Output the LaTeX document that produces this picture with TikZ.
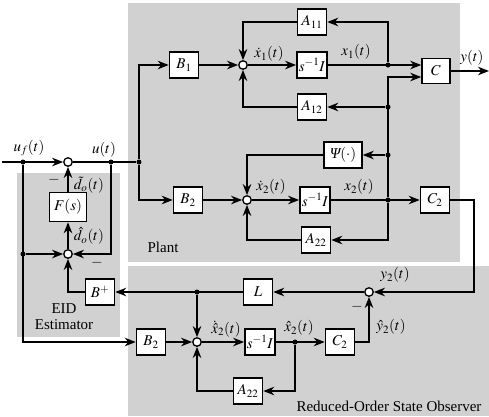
\documentclass[tikz,border=0pt]{standalone}
\usepackage{mathptmx}
\usepackage{fontspec}
\setmainfont{Liberation Serif}
\definecolor{regiongray}{rgb}{0.82,0.82,0.82}
\usepackage{tikz}
\usetikzlibrary{positioning}
\usetikzlibrary{arrows.meta}

\tikzset{
  blk/.style={draw, fill=white, line width=1.5pt, minimum width=29pt, minimum height=26pt, inner sep=2pt},
  sumnode/.style={draw, fill=white, circle, line width=1.3pt, minimum size=8.5pt, inner sep=0pt},
  jdot/.style={circle, fill, inner sep=0pt, minimum size=5pt},
  sig/.style={line width=1.6pt},
  lbl/.style={inner sep=1pt},
}

\begin{document}
\begin{tikzpicture}[x=1pt, y=-1pt, font=\fontsize{15}{16}\selectfont,
    >={Stealth[length=11pt, width=8.5pt, inset=3.5pt]}]
  \useasboundingbox (0,0) rectangle (489,416);
  \fill[regiongray] (128,3) rectangle (460,262);
  \fill[regiongray] (128,266) rectangle (489,416);
  \fill[regiongray] (17,173) rectangle (120,337);

  % EID estimator
  \coordinate (in) at (2,162);
  \node[sumnode] (s0) at (68,162) {};
  \node[sumnode] (s1) at (68,254) {};
  \node[blk, minimum width=37pt, minimum height=29pt] (F) at (68,207) {$F(s)$};
  \node[blk] (Bplus) at (100,292) {$B^{+}$};
  \node[jdot] (jf) at (23,162) {};
  \node[jdot] (je) at (23,254) {};
  \node[jdot] (ju) at (111,162) {};
  \node[jdot] (jp) at (139,162) {};

  % plant
  \node[blk] (B1) at (184,65) {$B_1$};
  \node[sumnode] (sum1) at (243,65) {};
  \node[blk] (I1) at (312,65) {$s^{-1}I$};
  \node[blk] (A11) at (312,22) {$A_{11}$};
  \node[blk] (A12) at (312,107) {$A_{12}$};
  \node[blk, minimum width=28pt, minimum height=25pt] (C) at (436,71) {$C$};
  \coordinate (cin1) at ([yshift=6pt]C.west);
  \coordinate (cin2) at ([yshift=-6pt]C.west);
  \coordinate (yout) at (489,71);
  \node[jdot] (jx1) at (388,65) {};
  \node[jdot] (jA12) at (388,107) {};
  \node[jdot] (jpsi) at (388,155) {};
  \node[jdot] (jx2) at (388,200) {};
  \node[blk] (B2p) at (188,200) {$B_2$};
  \node[sumnode] (sum2) at (247,200) {};
  \node[blk] (I2) at (315,200) {$s^{-1}I$};
  \node[blk, minimum width=38pt] (Psi) at (343,155) {{\itshape Ψ}$(\cdot)$};
  \node[blk] (A22p) at (316,240) {$A_{22}$};
  \node[blk] (C2p) at (435,200) {$C_2$};
  \coordinate (jc) at (474,292);

  % observer
  \node[sumnode] (sum3) at (369,292) {};
  \node[blk] (L) at (258,292) {$L$};
  \node[jdot] (jL) at (197,292) {};
  \node[blk] (B2o) at (151,342) {$B_2$};
  \node[sumnode] (sum4) at (197,342) {};
  \node[blk] (I3) at (260,342) {$s^{-1}I$};
  \node[jdot] (jxh) at (295,342) {};
  \node[blk] (C2o) at (340,342) {$C_2$};
  \node[blk] (A22o) at (248,391) {$A_{22}$};

  % connectors
  \draw[sig,->] (in) -- (s0);
  \draw[sig] (s0) -- (jp);
  \draw[sig,->] (jp) |- (B1);
  \draw[sig,->] (jp) |- (B2p);
  \draw[sig,->] (jf) |- (B2o);
  \draw[sig,->] (je) -- (s1);
  \draw[sig,->] (ju) |- (s1);
  \draw[sig,->] (s1) -- (F);
  \draw[sig,->] (F) -- (s0);
  \draw[sig,->] (Bplus) -| (s1);

  \draw[sig,->] (B1) -- (sum1);
  \draw[sig,->] (sum1) -- (I1);
  \draw[sig,->] (I1) -- (cin1);
  \draw[sig,->] (jx1) |- (A11);
  \draw[sig,->] (A11) -| (sum1);
  \draw[sig,->] (A12) -| (sum1);
  \draw[sig,->] (jA12) -- (A12);
  \draw[sig,->] (jpsi) -- (Psi);
  \draw[sig,->] (jx2) |- (cin2);
  \draw[sig,->] (jx2) |- (A22p);
  \draw[sig,->] (C) -- (yout);
  \draw[sig,->] (B2p) -- (sum2);
  \draw[sig,->] (sum2) -- (I2);
  \draw[sig,->] (I2) -- (C2p);
  \draw[sig,->] (Psi) -| (sum2);
  \draw[sig,->] (A22p) -| (sum2);
  \draw[sig,->] (C2p) -| (jc) -- (sum3);

  \draw[sig,->] (sum3) -- (L);
  \draw[sig,->] (L) -- (Bplus);
  \draw[sig,->] (jL) -- (sum4);
  \draw[sig,->] (B2o) -- (sum4);
  \draw[sig,->] (sum4) -- (I3);
  \draw[sig,->] (I3) -- (C2o);
  \draw[sig,->] (C2o) -| (sum3);
  \draw[sig,->] (jxh) |- (A22o);
  \draw[sig,->] (A22o) -| (sum4);

  % labels
  \node[lbl] (luf) at (29,148) {$u_f(t)$};
  \node[lbl] (lu) at (104,150) {$u(t)$};
  \node[lbl] (ldt) at (89,185) {$\tilde{d}_o(t)$};
  \node[lbl] (ldh) at (89,236) {$\hat{d}_o(t)$};
  \node[lbl] (m1) at (54,180) {$-$};
  \node[lbl] (m2) at (97,263) {$-$};
  \node[lbl] (lxd1) at (269,54) {$\dot{x}_1(t)$};
  \node[lbl] (lx1) at (356,52) {$x_1(t)$};
  \node[lbl] (ly) at (472,58) {$y(t)$};
  \node[lbl] (lxd2) at (271,187) {$\dot{x}_2(t)$};
  \node[lbl] (lx2) at (359,187) {$x_2(t)$};
  \node[lbl] (lplant) at (163,247) {Plant};
  \node[lbl] (ly2) at (395,275) {$y_2(t)$};
  \node[lbl] (m3) at (357,307) {$-$};
  \node[lbl] (ly2h) at (391,327) {$\hat{y}_2(t)$};
  \node[lbl] (lxh2) at (299,328) {$\hat{x}_2(t)$};
  \node[lbl] (lxhd2) at (226,329) {$\dot{\hat{x}}_2(t)$};
  \node[lbl, align=center] (leid) at (64,317) {EID\\Estimator};
  \node[lbl] (lobs) at (389,406) {Reduced-Order State Observer};
\end{tikzpicture}
\end{document}
